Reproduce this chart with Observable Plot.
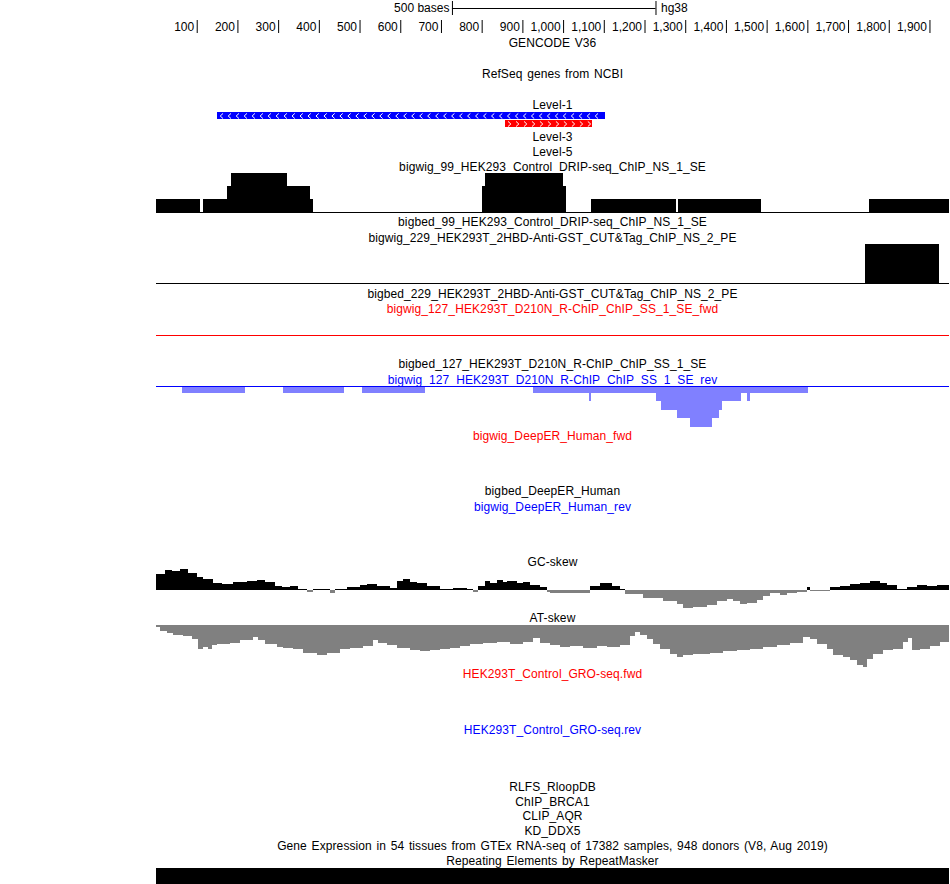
<!DOCTYPE html>
<html>
<head>
<meta charset="utf-8">
<script src="https://cdn.jsdelivr.net/npm/d3@7"></script>
<script src="https://cdn.jsdelivr.net/npm/@observablehq/plot@0.6"></script>
<style>
  body { margin: 0; background: #fff; }
  #root { position: relative; width: 950px; height: 884px; overflow: hidden;
          font-family: "Liberation Sans", Arial, Helvetica, sans-serif; font-size: 12px; color: #000; }
  .lbl { position: absolute; left: 156px; width: 793px; text-align: center; line-height: 14px; white-space: nowrap;
         letter-spacing: 0.1px; word-spacing: 1.2px; }
</style>
</head>
<body>
<div id="root"></div>
<script>
// ---------------- DATA ----------------
// genomic window (bases)
const windowStart = 0;
const windowEnd = 1948;

// ruler
const rulerTicks = [100, 200, 300, 400, 500, 600, 700, 800, 900, 1000, 1100, 1200, 1300, 1400, 1500, 1600, 1700, 1800, 1900];
const rulerTickLabels = ["100", "200", "300", "400", "500", "600", "700", "800", "900", "1,000", "1,100", "1,200", "1,300", "1,400", "1,500", "1,600", "1,700", "1,800", "1,900"];
const scaleBarStart = [727];
const scaleBarLength = [500];
const scaleBarLabel = ["500 bases"];
const assemblyLabel = ["hg38"];

// gene models (GENCODE)
const geneStart = [150, 857];
const geneEnd = [1103, 1071];
const geneStrand = ["-", "+"];

// bigwig_99 DRIP-seq signal
const dripStart = [0, 115, 174, 184, 322, 378, 801, 808, 1000, 1069, 1282, 1751];
const dripEnd   = [108, 174, 184, 322, 378, 386, 808, 1000, 1007, 1277, 1486, 1948];
const dripValue = [1, 1, 2, 3, 2, 1, 2, 3, 2, 1, 1, 1];

// bigwig_229 CUT&Tag signal
const cutStart = [1742];
const cutEnd = [1923];
const cutValue = [1];

// bigwig_127 rev signal (negative strand)
const revStart = [64, 312, 506, 926, 1064, 1069, 1218, 1228, 1241, 1280, 1312, 1366, 1383, 1390, 1437, 1452, 1459];
const revEnd   = [219, 462, 661, 1064, 1069, 1218, 1228, 1241, 1280, 1312, 1366, 1383, 1390, 1437, 1452, 1459, 1602];
const revValue = [-7, -7, -7, -7, -15, -7, -7, -15, -23, -31, -40, -31, -23, -15, -7, -15, -7];

// GC-skew (window starts, values)
const gcStart = [0, 22, 39, 59, 79, 101, 115, 140, 162, 189, 224, 248, 268, 292, 310, 329, 349, 371, 386, 427,
  440, 469, 501, 518, 543, 575, 592, 607, 624, 641, 666, 698, 730, 764, 779, 791, 808, 820, 838, 852,
  862, 887, 902, 919, 943, 960, 968, 1066, 1091, 1120, 1140, 1152, 1196, 1245, 1280, 1295, 1319, 1354, 1378, 1403,
  1417, 1435, 1452, 1476, 1491, 1508, 1533, 1550, 1575, 1599, 1607, 1656, 1680, 1705, 1729, 1754, 1779, 1796, 1820, 1845,
  1869, 1894, 1919];
const gcValue = [16, 20, 19, 21, 17, 13, 11, 7, 6, 8, 9, 10, 8, 4, 3, 4, 1, -2, 1, -3,
  1, 3, 5, 6, 4, 2, 9, 11, 8, 7, 4, 1, 2, 1, -2, 4, 9, 7, 10, 8,
  9, 7, 8, 5, 3, -2, -3, 4, 7, 4, 1, -4, -8, -11, -14, -18, -17, -15, -11, -9,
  -11, -14, -13, -10, -6, -3, -5, -3, -2, 3, -1, 3, 4, 6, 7, 9, 7, 5, 1, 3,
  5, 4, 5];

// AT-skew (window starts, values)
const atStart = [0, 10, 27, 42, 66, 88, 103, 115, 128, 138, 150, 182, 206, 238, 251, 268, 297, 312, 337, 361,
  396, 420, 452, 477, 509, 533, 545, 567, 592, 624, 649, 673, 698, 722, 747, 771, 803, 838, 870, 902,
  926, 943, 968, 992, 1017, 1049, 1083, 1108, 1140, 1164, 1177, 1189, 1206, 1221, 1238, 1263, 1280, 1295, 1319, 1361,
  1393, 1427, 1459, 1491, 1525, 1557, 1589, 1607, 1624, 1648, 1663, 1688, 1705, 1722, 1737, 1747, 1761, 1786, 1810, 1835,
  1847, 1857, 1877, 1901, 1926];
const atValue = [-2, -5, -7, -9, -10, -13, -22, -20, -22, -18, -17, -16, -14, -11, -14, -17, -20, -21, -22, -25,
  -27, -25, -22, -21, -19, -14, -16, -18, -21, -23, -24, -23, -22, -21, -19, -17, -16, -15, -17, -15,
  -12, -16, -18, -20, -19, -21, -19, -20, -18, -10, -6, -9, -13, -17, -22, -26, -29, -27, -26, -25,
  -24, -23, -22, -20, -18, -16, -11, -13, -17, -22, -27, -29, -32, -36, -38, -31, -26, -23, -22, -15,
  -12, -23, -22, -19, -15];

// RepeatMasker
const repeatStart = [0];
const repeatEnd = [1948];

// track labels
const labelText = [
  "GENCODE V36",
  "RefSeq genes from NCBI",
  "Level-1",
  "Level-3",
  "Level-5",
  "bigwig_99_HEK293_Control_DRIP-seq_ChIP_NS_1_SE",
  "bigbed_99_HEK293_Control_DRIP-seq_ChIP_NS_1_SE",
  "bigwig_229_HEK293T_2HBD-Anti-GST_CUT&Tag_ChIP_NS_2_PE",
  "bigbed_229_HEK293T_2HBD-Anti-GST_CUT&Tag_ChIP_NS_2_PE",
  "bigwig_127_HEK293T_D210N_R-ChIP_ChIP_SS_1_SE_fwd",
  "bigbed_127_HEK293T_D210N_R-ChIP_ChIP_SS_1_SE",
  "bigwig_127_HEK293T_D210N_R-ChIP_ChIP_SS_1_SE_rev",
  "bigwig_DeepER_Human_fwd",
  "bigbed_DeepER_Human",
  "bigwig_DeepER_Human_rev",
  "GC-skew",
  "AT-skew",
  "HEK293T_Control_GRO-seq.fwd",
  "HEK293T_Control_GRO-seq.rev",
  "RLFS_RloopDB",
  "ChIP_BRCA1",
  "CLIP_AQR",
  "KD_DDX5",
  "Gene Expression in 54 tissues from GTEx RNA-seq of 17382 samples, 948 donors (V8, Aug 2019)",
  "Repeating Elements by RepeatMasker"
];

// ---------------- LAYOUT / STYLE ----------------
const labelCenterY = [43, 74, 105, 137, 152, 167, 222, 238, 294, 309, 364, 380, 436, 491, 507, 562, 618, 674, 730, 787, 802, 816, 831, 846, 861];
const labelColor = i => /_fwd$|\.fwd$/.test(labelText[i]) ? "#ff0000" : /_rev$|\.rev$/.test(labelText[i]) ? "#0000ff" : "#000000";
const FONT = "'Liberation Sans', Arial, Helvetica, sans-serif";
const root = document.getElementById("root");

function place(top, height, opts) {
  const svg = Plot.plot({
    width: 950,
    height,
    marginLeft: 156,
    marginRight: 1,
    marginTop: 0,
    marginBottom: 0,
    x: {domain: [windowStart, windowEnd], axis: null},
    style: {fontFamily: FONT, fontSize: "12px", background: "transparent", overflow: "visible"},
    ...opts
  });
  svg.style.position = "absolute";
  svg.style.left = "0px";
  svg.style.top = top + "px";
  svg.style.maxWidth = "none";
  root.appendChild(svg);
  return svg;
}
const idx = a => a.map((_, i) => i);
function stepSegments(starts, values, end) {
  return starts.map((s, i) => ({x1: s, x2: i + 1 < starts.length ? starts[i + 1] : end, v: values[i]}));
}

// chevron glyphs drawn as paths (strand arrows)
const chevronLeft = {draw(ctx, size) { const r = Math.sqrt(size) / 2; ctx.moveTo(r * 0.55, -r); ctx.lineTo(-r * 0.55, 0); ctx.lineTo(r * 0.55, r); }};
const chevronRight = {draw(ctx, size) { const r = Math.sqrt(size) / 2; ctx.moveTo(-r * 0.55, -r); ctx.lineTo(r * 0.55, 0); ctx.lineTo(-r * 0.55, r); }};

// ---- ruler ----
const sbEnd = scaleBarStart[0] + scaleBarLength[0];
place(0, 36, {
  y: {domain: [0, 36], range: [0, 36], axis: null},
  marks: [
    Plot.ruleY([8], {x1: scaleBarStart[0], x2: sbEnd, stroke: "black"}),
    Plot.ruleX([scaleBarStart[0], sbEnd], {y1: 1, y2: 15, stroke: "black"}),
    Plot.text(scaleBarLabel, {x: scaleBarStart[0], y: 8, text: d => d, textAnchor: "end", dx: -3, fill: "black", fontSize: 12}),
    Plot.text(assemblyLabel, {x: sbEnd, y: 8, text: d => d, textAnchor: "start", dx: 5, fill: "black", fontSize: 12}),
    Plot.ruleX(rulerTicks, {y1: 20, y2: 33, stroke: "black"}),
    Plot.text(rulerTicks, {x: d => d, y: 27, text: (d, i) => rulerTickLabels[i], textAnchor: "end", dx: -3, fill: "black", fontSize: 12})
  ]
});

// ---- gene models ----
const chevrons = [];
geneStart.forEach((s, i) => {
  d3.range(s + 10, geneEnd[i] - 6, 19.6).forEach(x => chevrons.push({x, row: i, strand: geneStrand[i]}));
});
place(112, 15, {
  y: {type: "band", domain: [0, 1], range: [0, 15], paddingInner: 1 / 8, paddingOuter: 0, axis: null},
  marks: [
    Plot.barX([0], {x1: i => geneStart[i], x2: i => geneEnd[i], y: i => i, fill: "#0000ff", shapeRendering: "crispEdges"}),
    Plot.barX([1], {x1: i => geneStart[i], x2: i => geneEnd[i], y: i => i, fill: "#ff0000", shapeRendering: "crispEdges"}),
    Plot.dot(chevrons.filter(d => d.strand === "-"), {x: "x", y: "row", r: 2.9, symbol: chevronLeft, stroke: "white", fill: "none", strokeWidth: 1}),
    Plot.dot(chevrons.filter(d => d.strand === "+"), {x: "x", y: "row", r: 2.9, symbol: chevronRight, stroke: "white", fill: "none", strokeWidth: 1})
  ]
});

// ---- DRIP-seq bigwig_99 ----
place(173, 40, {
  y: {domain: [0, 3], range: [39, 0], axis: null},
  marks: [
    Plot.rectY(idx(dripStart), {x1: i => dripStart[i], x2: i => dripEnd[i], y1: 0, y2: i => dripValue[i], fill: "black", shapeRendering: "crispEdges"}),
    Plot.ruleY([0], {stroke: "black"})
  ]
});

// ---- CUT&Tag bigwig_229 ----
place(244, 40, {
  y: {domain: [0, 1], range: [39, 0], axis: null},
  marks: [
    Plot.rectY(idx(cutStart), {x1: i => cutStart[i], x2: i => cutEnd[i], y1: 0, y2: i => cutValue[i], fill: "black", shapeRendering: "crispEdges"}),
    Plot.ruleY([0], {stroke: "black"})
  ]
});

// ---- bigwig_127 fwd (empty) ----
place(330, 10, {
  y: {domain: [0, 1], range: [5, 0], axis: null},
  marks: [Plot.ruleY([0], {stroke: "#ff0000"})]
});

// ---- bigwig_127 rev ----
place(386, 42, {
  y: {domain: [-40, 0], range: [41, 0], axis: null},
  marks: [
    Plot.rectY(idx(revStart), {x1: i => revStart[i], x2: i => revEnd[i], y1: 0, y2: i => revValue[i], fill: "#8080ff", shapeRendering: "crispEdges"}),
    Plot.ruleY([0], {stroke: "#0000ff"})
  ]
});

// ---- GC-skew ----
const gcSeg = stepSegments(gcStart, gcValue, windowEnd);
place(568, 44, {
  y: {domain: [-22, 22], range: [44, 0], axis: null},
  marks: [
    Plot.rectY(gcSeg, {x1: "x1", x2: "x2", y1: 0, y2: "v", fill: d => d.v > 0 ? "black" : "#808080", shapeRendering: "crispEdges"})
  ]
});

// ---- AT-skew ----
const atSeg = stepSegments(atStart, atValue, windowEnd);
place(625, 46, {
  y: {domain: [-40, 0], range: [44, 0], axis: null},
  marks: [
    Plot.rectY(atSeg, {x1: "x1", x2: "x2", y1: 0, y2: "v", fill: "#808080", shapeRendering: "crispEdges"})
  ]
});

// ---- RepeatMasker ----
place(868, 16, {
  marks: [
    Plot.rect(idx(repeatStart), {x1: i => repeatStart[i], x2: i => repeatEnd[i], fill: "black", shapeRendering: "crispEdges"})
  ]
});

// ---- labels ----
labelText.forEach((t, i) => {
  const d = document.createElement("div");
  d.className = "lbl";
  d.textContent = t;
  d.style.top = (labelCenterY[i] - 7) + "px";
  d.style.color = labelColor(i);
  root.appendChild(d);
});
</script>
</body>
</html>
